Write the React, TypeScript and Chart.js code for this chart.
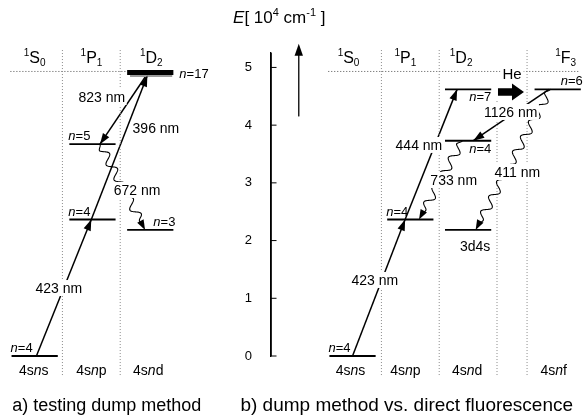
import React, { useEffect, useRef } from 'react';
import { Chart, registerables } from 'chart.js';
Chart.register(...registerables);

// ---------------- data ----------------
// columns (term symbols and configurations)
const termLetters = ['S', 'P', 'D', 'S', 'P', 'D', 'F'];
const termJ = ['0', '1', '2', '0', '1', '2', '3'];
const configSuffix = ['s', 'p', 'd', 's', 'p', 'd', 'f'];

// energy levels (E in 10^4 cm^-1)
const levelColumn = [0, 1, 1, 2, 2, 3, 4, 5, 5, 5, 6];
const levelEnergy = [0, 2.365, 3.67, 2.185, 4.91, 0, 2.365, 3.73, 4.62, 2.185, 4.62];
const levelNames = ['n=4', 'n=4', 'n=5', 'n=3', 'n=17', 'n=4', 'n=4', 'n=4', 'n=7', '3d4s', 'n=6'];
const rydbergBandLevels = [4];

// transitions
const transFrom = [0, 1, 4, 2, 5, 6, 10, 7, 10];
const transTo = [1, 4, 2, 3, 6, 8, 7, 6, 9];
const transNm = [423, 396, 823, 672, 423, 444, 1126, 733, 411];
const transWavy = [false, false, false, true, false, false, false, true, true];

// collisional transfer (He)
const collisionFrom = 8;
const collisionLabel = 'He';

const ionizationLimit = 4.93;
const yTickValues = [0, 1, 2, 3, 4, 5];
const captions = ['a) testing dump method', 'b) dump method vs. direct fluorescence'];

// ---------------- layout ----------------
const X_MIN = -0.6;
const X_MAX = 9.54;
const Y_MIN = 0;
const Y_MAX = 5.25;
const AXIS_X = 4.09;
const TICK_LEN = 0.095;
const TICK_LABEL_X = 3.76;
const columnX = [0, 1, 2, 5.5, 6.5, 7.5, 9.05];
const termDxPx = [0, -1, 1, -4, -5, -7, 8];
const configDxPx = [-1, -1, -2, -2, -5, -1, -4];
const LEVEL_HALF = 0.4;
const separatorX = [0.48, 1.48, 6.0, 7.0, 8.0, 8.52];
const separatorTop = [5.33, 5.33, 5.33, 5.33, 4.45, 5.33];
const SEPARATOR_BOTTOM = -0.33;
const ionSegStart = [-0.42, 5.08];
const ionSegEnd = [1.6, 9.44];
const levelLabelPlace = ['aboveLeft', 'aboveLeft', 'aboveLeft', 'aboveRight', 'right', 'aboveLeft', 'aboveLeft', 'belowRight', 'belowRight', 'below', 'aboveRight'];
const transFromDx = [0.03, -0.02, -0.07, 0.13, 0, -0.09, -0.15, -0.1, -0.13];
const transToDx = [-0.02, -0.05, 0.13, -0.09, -0.09, -0.19, 0.09, 0.15, 0.13];
const labelT = [0.498, 0.635, 0.313, 0.534, 0.557, 0.573, 0.44, 0.499, 0.588];
const labelDxPx = [-5, 29, -30, 13, -7, -16, -5, 13, 11];
const heFromX = 8.017;
const heToX = 8.467;
const heDE = -0.045;
const energyArrowX = 4.57;
const energyArrowFrom = 4.16;
const energyArrowTo = 5.41;
const captionX = [-0.39, 3.56];
const captionSize = [18, 19];

const FONT = '"Liberation Sans", Arial, Helvetica, sans-serif';

type Run = { t: string; size: number; italic?: boolean; dy?: number };

function fontOf(r: Run) {
  return `${r.italic ? 'italic ' : ''}${r.size}px ${FONT}`;
}
function runsWidth(ctx: CanvasRenderingContext2D, runs: Run[]) {
  let w = 0;
  for (const r of runs) {
    ctx.font = fontOf(r);
    w += ctx.measureText(r.t).width;
  }
  return w;
}
function drawRuns(ctx: CanvasRenderingContext2D, runs: Run[], x: number, y: number, align: 'left' | 'center' | 'right') {
  const w = runsWidth(ctx, runs);
  let cx = align === 'left' ? x : align === 'center' ? x - w / 2 : x - w;
  ctx.textAlign = 'left';
  ctx.textBaseline = 'alphabetic';
  for (const r of runs) {
    ctx.font = fontOf(r);
    ctx.fillText(r.t, cx, y + (r.dy || 0));
    cx += ctx.measureText(r.t).width;
  }
}
function levelRuns(name: string, size: number): Run[] {
  if (name.startsWith('n=')) return [{ t: 'n', size, italic: true }, { t: name.slice(1), size }];
  return [{ t: name, size }];
}
function arrowHead(ctx: CanvasRenderingContext2D, tx: number, ty: number, ux: number, uy: number, len = 10, hw = 3.6) {
  const bx = tx - ux * len;
  const by = ty - uy * len;
  const nx = -uy;
  const ny = ux;
  ctx.beginPath();
  ctx.moveTo(tx, ty);
  ctx.lineTo(bx + nx * hw, by + ny * hw);
  ctx.lineTo(bx - nx * hw, by - ny * hw);
  ctx.closePath();
  ctx.fill();
}
function wavy(ctx: CanvasRenderingContext2D, x0: number, y0: number, x1: number, y1: number) {
  const dx = x1 - x0;
  const dy = y1 - y0;
  const L = Math.hypot(dx, dy);
  const ux = dx / L;
  const uy = dy / L;
  const nx = -uy;
  const ny = ux;
  const head = 9;
  const Lw = L - head + 1;
  const amp = 4.2;
  const wl = 17;
  ctx.beginPath();
  const steps = Math.ceil(Lw * 2);
  for (let i = 0; i <= steps; i++) {
    const s = (i / steps) * Lw;
    const env = Math.min(1, s / 6, (Lw - s) / 6);
    const o = amp * Math.sin((2 * Math.PI * s) / wl) * env;
    const px = x0 + ux * s + nx * o;
    const py = y0 + uy * s + ny * o;
    if (i === 0) ctx.moveTo(px, py);
    else ctx.lineTo(px, py);
  }
  ctx.stroke();
  arrowHead(ctx, x1, y1, ux, uy, 10, 3.6);
}

function endpointE(level: number) {
  return rydbergBandLevels.includes(level) ? levelEnergy[level] - 0.05 : levelEnergy[level];
}

const annotationPlugin = {
  id: 'levelAnnotations',
  beforeDraw(chart: any) {
    const ctx = chart.ctx;
    ctx.save();
    ctx.fillStyle = '#fff';
    ctx.fillRect(0, 0, chart.width, chart.height);
    ctx.restore();
  },
  afterDatasetsDraw(chart: any) {
    const ctx: CanvasRenderingContext2D = chart.ctx;
    const xs = chart.scales.x;
    const ys = chart.scales.y;
    const X = (v: number) => xs.getPixelForValue(v);
    const Y = (v: number) => ys.getPixelForValue(v);
    ctx.save();
    ctx.setLineDash([]);
    ctx.fillStyle = '#000';
    ctx.strokeStyle = '#000';
    ctx.lineCap = 'round';

    // transitions: arrowheads and wavy lines
    const labelBoxes: { x: number; y: number; text: string }[] = [];
    for (let i = 0; i < transFrom.length; i++) {
      const f = transFrom[i];
      const t = transTo[i];
      const x0 = X(columnX[levelColumn[f]] + transFromDx[i]);
      const y0 = Y(endpointE(f));
      const x1 = X(columnX[levelColumn[t]] + transToDx[i]);
      const y1 = Y(endpointE(t));
      const L = Math.hypot(x1 - x0, y1 - y0);
      if (transWavy[i]) {
        ctx.lineWidth = 1.1;
        wavy(ctx, x0, y0, x1, y1);
      } else {
        arrowHead(ctx, x1, y1, (x1 - x0) / L, (y1 - y0) / L, 11, 3.8);
      }
      const lx = x0 + (x1 - x0) * labelT[i] + labelDxPx[i];
      const ly = y0 + (y1 - y0) * labelT[i];
      labelBoxes.push({ x: lx, y: ly, text: `${transNm[i]} nm` });
    }

    // He collisional transfer arrow
    {
      const yc = Y(levelEnergy[collisionFrom] + heDE);
      const xa = X(heFromX);
      const xb = X(heToX);
      const headL = 12;
      const sh = 3.8;
      const hh = 8.5;
      ctx.beginPath();
      ctx.moveTo(xa, yc - sh);
      ctx.lineTo(xb - headL, yc - sh);
      ctx.lineTo(xb - headL, yc - hh);
      ctx.lineTo(xb, yc);
      ctx.lineTo(xb - headL, yc + hh);
      ctx.lineTo(xb - headL, yc + sh);
      ctx.lineTo(xa, yc + sh);
      ctx.closePath();
      ctx.fill();
      ctx.font = `15px ${FONT}`;
      const w = ctx.measureText(collisionLabel).width;
      const cx = (xa + xb) / 2 + 1;
      ctx.fillStyle = '#fff';
      ctx.fillRect(cx - w / 2 - 2, yc - 26, w + 4, 16);
      ctx.fillStyle = '#000';
      ctx.textAlign = 'center';
      ctx.textBaseline = 'alphabetic';
      ctx.fillText(collisionLabel, cx, yc - 13);
    }

    // energy arrow
    {
      const x = X(energyArrowX);
      const ya = Y(energyArrowFrom);
      const yb = Y(energyArrowTo);
      ctx.lineWidth = 1.3;
      ctx.beginPath();
      ctx.moveTo(x, ya);
      ctx.lineTo(x, yb + 8);
      ctx.stroke();
      arrowHead(ctx, x, yb, 0, -1, 12, 4.2);
    }

    // transition labels with white background
    ctx.font = `14px ${FONT}`;
    for (const b of labelBoxes) {
      const w = ctx.measureText(b.text).width;
      ctx.fillStyle = '#fff';
      ctx.fillRect(b.x - w / 2 - 1.5, b.y - 8, w + 3, 16);
      ctx.fillStyle = '#000';
      ctx.textAlign = 'center';
      ctx.textBaseline = 'middle';
      ctx.fillText(b.text, b.x, b.y + 1);
    }

    // level labels
    for (let i = 0; i < levelNames.length; i++) {
      const c = columnX[levelColumn[i]];
      const y = Y(levelEnergy[i]);
      const runs = levelRuns(levelNames[i], 13);
      const place = levelLabelPlace[i];
      if (place === 'aboveLeft') drawRuns(ctx, runs, X(c - LEVEL_HALF) - 1, y - 4, 'left');
      else if (place === 'aboveRight') drawRuns(ctx, runs, X(c + LEVEL_HALF) + 2, y - 4, 'right');
      else if (place === 'belowRight') drawRuns(ctx, runs, X(c + LEVEL_HALF), y + 12, 'right');
      else if (place === 'right') drawRuns(ctx, runs, X(c + LEVEL_HALF) + 6, y + 5, 'left');
      else drawRuns(ctx, levelRuns(levelNames[i], 14), X(c) + 7, y + 21, 'center');
    }

    // column term symbols and configurations
    const yTop = chart.chartArea.top;
    const yBot = Y(0);
    for (let i = 0; i < termLetters.length; i++) {
      const x = X(columnX[i]);
      drawRuns(
        ctx,
        [
          { t: '1', size: 10, dy: -7 },
          { t: termLetters[i], size: 16 },
          { t: termJ[i], size: 10, dy: 3 },
        ],
        x + termDxPx[i],
        yTop + 10,
        'center'
      );
      drawRuns(
        ctx,
        [
          { t: '4s', size: 14 },
          { t: 'n', size: 14, italic: true },
          { t: configSuffix[i], size: 14 },
        ],
        x + configDxPx[i],
        yBot + 19,
        'center'
      );
    }

    // axis title
    drawRuns(
      ctx,
      [
        { t: 'E', size: 17, italic: true },
        { t: '[ 10', size: 17 },
        { t: '4', size: 11, dy: -7 },
        { t: ' cm', size: 17 },
        { t: '-1', size: 11, dy: -7 },
        { t: ' ]', size: 17 },
      ],
      X(AXIS_X) - 38,
      yTop - 30,
      'left'
    );

    // captions
    for (let i = 0; i < captions.length; i++) {
      drawRuns(ctx, [{ t: captions[i], size: captionSize[i] }], X(captionX[i]), yBot + 55, 'left');
    }
    ctx.restore();
  },
};

function seg(x0: number, x1: number, y0: number, y1: number) {
  return [
    { x: x0, y: y0 },
    { x: x1, y: y1 },
  ];
}

export default function App() {
  const ref = useRef<HTMLCanvasElement | null>(null);
  useEffect(() => {
    if (!ref.current) return;
    const datasets: any[] = [];
    const base = { showLine: true, pointRadius: 0, pointHoverRadius: 0, clip: false, fill: false, tension: 0 };

    // column separators
    for (let i = 0; i < separatorX.length; i++) {
      datasets.push({
        ...base,
        data: seg(separatorX[i], separatorX[i], SEPARATOR_BOTTOM, separatorTop[i]),
        borderColor: '#8a8a8a',
        borderWidth: 1,
        borderDash: [1, 2],
      });
    }
    // ionization limit
    for (let i = 0; i < ionSegStart.length; i++) {
      datasets.push({
        ...base,
        data: seg(ionSegStart[i], ionSegEnd[i], ionizationLimit, ionizationLimit),
        borderColor: '#555',
        borderWidth: 1,
        borderDash: [1, 2],
      });
    }
    // energy axis line and its tick marks (on the right side)
    datasets.push({
      ...base,
      data: seg(AXIS_X, AXIS_X, Y_MIN, Y_MAX),
      borderColor: '#000',
      borderWidth: 1.4,
    });
    for (const v of yTickValues) {
      datasets.push({
        ...base,
        data: seg(AXIS_X, AXIS_X + TICK_LEN, v, v),
        borderColor: '#000',
        borderWidth: 1,
      });
    }
    // levels
    for (let i = 0; i < levelEnergy.length; i++) {
      const c = columnX[levelColumn[i]];
      const band = rydbergBandLevels.includes(i);
      datasets.push({
        ...base,
        data: seg(c - LEVEL_HALF, c + LEVEL_HALF, levelEnergy[i], levelEnergy[i]),
        borderColor: '#000',
        borderWidth: band ? 5 : 1.8,
      });
      if (band) {
        datasets.push({
          ...base,
          data: seg(c - LEVEL_HALF + 0.05, c + LEVEL_HALF - 0.02, levelEnergy[i] - 0.06, levelEnergy[i] - 0.06),
          borderColor: '#9a9a9a',
          borderWidth: 2,
        });
      }
    }
    // straight transitions
    for (let i = 0; i < transFrom.length; i++) {
      if (transWavy[i]) continue;
      const f = transFrom[i];
      const t = transTo[i];
      datasets.push({
        ...base,
        data: [
          { x: columnX[levelColumn[f]] + transFromDx[i], y: endpointE(f) },
          { x: columnX[levelColumn[t]] + transToDx[i], y: endpointE(t) },
        ],
        borderColor: '#000',
        borderWidth: 1.5,
      });
    }

    const setTicks = (s: any) => {
      s.ticks = yTickValues.map((v) => ({ value: v }));
    };

    const chart = new Chart(ref.current, {
      type: 'scatter',
      data: { datasets },
      options: {
        animation: false,
        responsive: false,
        maintainAspectRatio: false,
        events: [],
        layout: { padding: { top: 53, bottom: 62, left: 0, right: 0 } },
        plugins: { legend: { display: false }, tooltip: { enabled: false } },
        scales: {
          x: { type: 'linear', min: X_MIN, max: X_MAX, display: false },
          y: {
            type: 'linear',
            min: Y_MIN,
            max: Y_MAX,
            position: { x: AXIS_X } as any,
            border: { display: true, color: '#000', width: 1.4 },
            grid: { display: true, drawOnChartArea: false, drawTicks: false, color: '#000' },
            afterBuildTicks: setTicks,
            ticks: { display: false },
          },
          yLabels: {
            type: 'linear',
            axis: 'y',
            min: Y_MIN,
            max: Y_MAX,
            position: { x: TICK_LABEL_X } as any,
            border: { display: false },
            grid: { display: false },
            afterBuildTicks: setTicks,
            ticks: {
              color: '#000',
              font: { family: FONT, size: 13 },
              callback: (v: any) => String(v),
            },
          },
        },
      },
      plugins: [annotationPlugin],
    });
    return () => chart.destroy();
  }, []);
  return (
    <div style={{ position: 'fixed', left: 0, top: 0, width: 586, height: 418, background: '#fff' }}>
      <canvas ref={ref} width={586} height={418} style={{ display: 'block', width: 586, height: 418 }} />
    </div>
  );
}
